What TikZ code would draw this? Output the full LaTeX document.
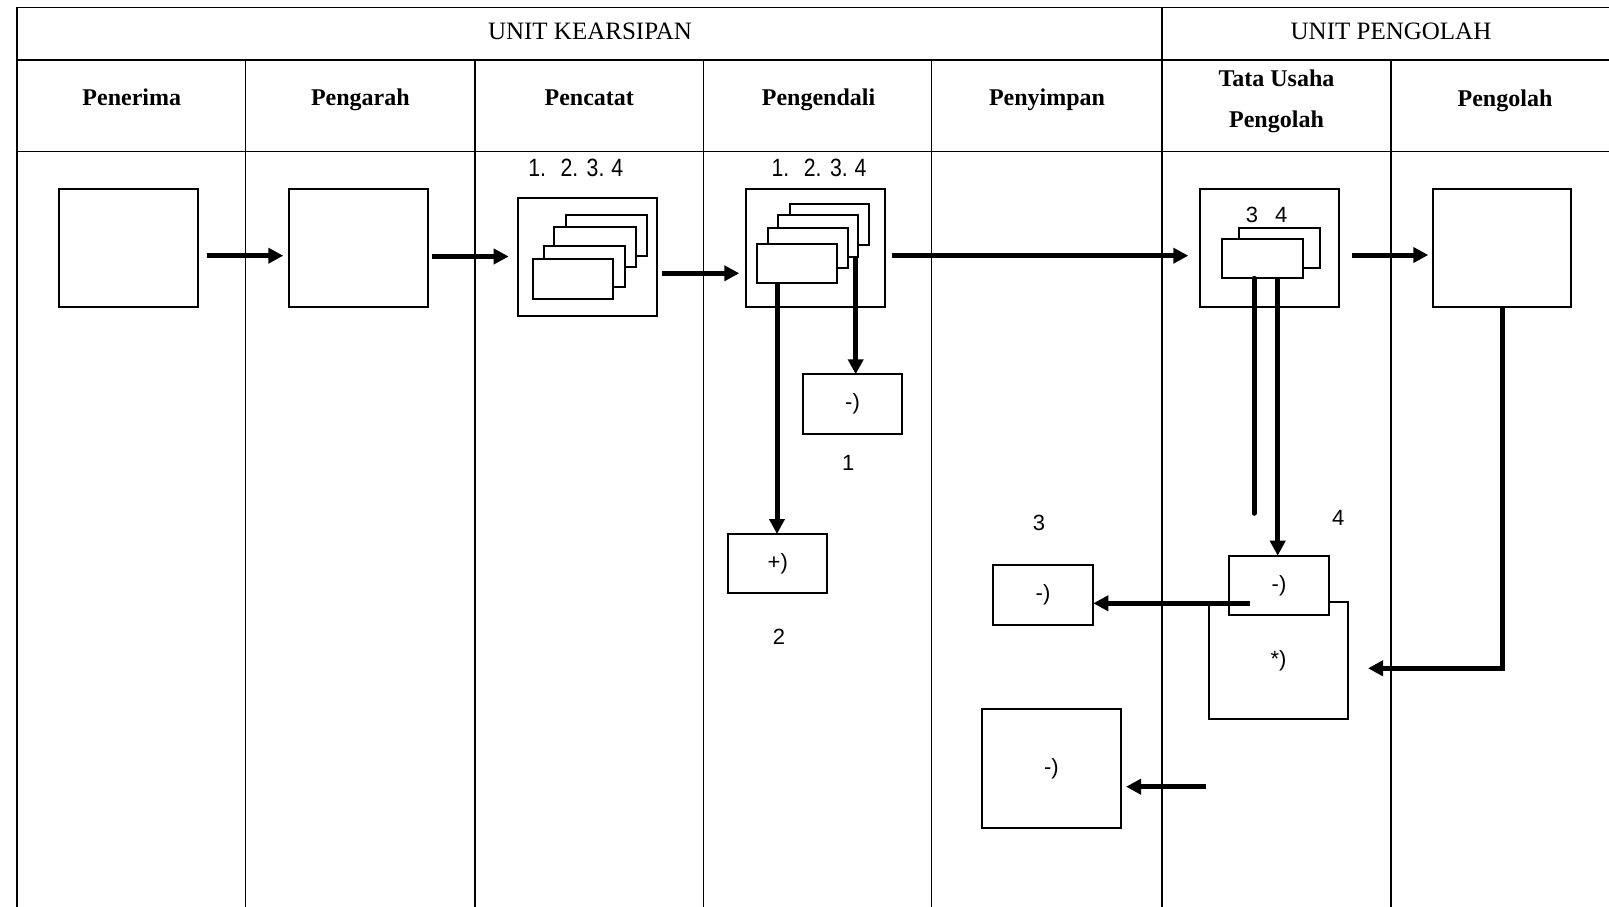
\documentclass[tikz,border=0pt]{standalone}
\usepackage{fontspec}
\usepackage{graphicx}
\setmainfont{Liberation Serif}
\setsansfont{Liberation Sans}
\usetikzlibrary{arrows.meta}
\newcommand{\narrow}[1]{\scalebox{0.85}[1]{#1}}
\begin{document}
\begin{tikzpicture}[x=1pt,y=-1pt,
  grid/.style={line width=1.4pt},
  box/.style={draw, line width=2.2pt, fill=white, inner sep=0pt, outer sep=0pt},
  sheet/.style={draw, line width=1.9pt, fill=white, inner sep=0pt, outer sep=0pt},
  arr/.style={line width=5pt, -{Triangle[length=15pt,width=15pt]}},
  thickline/.style={line width=5pt, line cap=round},
  hdr/.style={font=\fontsize{24}{28}\selectfont\bfseries, anchor=base, inner sep=0pt},
  unit/.style={font=\fontsize{25}{30}\selectfont, anchor=base, inner sep=0pt},
  nums/.style={font=\sffamily\fontsize{25}{28}\selectfont, anchor=base, inner sep=0pt},
  lbl/.style={font=\sffamily\fontsize{22}{24}\selectfont, inner sep=0pt},
  sym/.style={font=\sffamily\fontsize{22}{24}\selectfont}
]
\useasboundingbox (0,0) rectangle (1609,907);
\fill[white] (0,0) rectangle (1609,907);

% table
\draw[grid] (17,7.3) -- (1609,7.3);
\draw[grid] (17,60) -- (1609,60);
\draw[grid] (17,151.7) -- (1609,151.7);
\draw[grid] (17,7.3) -- (17,907);
\draw[grid] (1162,7.3) -- (1162,907);
\foreach \gx in {245.7,475,703.5,931.7,1391}
  \draw[grid] (\gx,60) -- (\gx,907);

% headers
\node[unit] (hk) at (590,39.3) {UNIT KEARSIPAN};
\node[unit] (hp) at (1391,39.3) {UNIT PENGOLAH};
\node[hdr] (h1) at (131.8,105) {Penerima};
\node[hdr] (h2) at (360.4,105) {Pengarah};
\node[hdr] (h3) at (589.3,105) {Pencatat};
\node[hdr] (h4) at (818.5,105) {Pengendali};
\node[hdr] (h5) at (1047,105) {Penyimpan};
\node[hdr] (h6a) at (1276.5,86) {Tata Usaha};
\node[hdr] (h6b) at (1276.5,127) {Pengolah};
\node[hdr] (h7) at (1505,106.5) {Pengolah};

% main boxes
\node[box, minimum width=138.7pt, minimum height=117.4pt] (penerima) at (128.65,248) {};
\node[box, minimum width=139pt, minimum height=117.4pt] (pengarah) at (358.2,248) {};
\node[box, minimum width=139.6pt, minimum height=117.4pt] (pencatat) at (587.5,257) {};
\node[box, minimum width=139.3pt, minimum height=118.3pt] (pengendali) at (815.35,248.15) {};
\node[box, minimum width=139.3pt, minimum height=117.7pt] (tu) at (1269.65,247.85) {};
\node[box, minimum width=137.7pt, minimum height=117.7pt] (pengolah) at (1502.15,247.85) {};

% stack in Pencatat
\node[sheet, minimum width=81pt, minimum height=41pt] (p4) at (606.2,235.5) {};
\node[sheet, minimum width=81.4pt, minimum height=40.6pt] (p3) at (595,247) {};
\node[sheet, minimum width=80.4pt, minimum height=40.7pt] (p2) at (584.5,266.35) {};
\node[sheet, minimum width=80.6pt, minimum height=40pt] (p1) at (573,279.3) {};

% stack in Pengendali
\node[sheet, minimum width=79.3pt, minimum height=41pt] (e4) at (829.65,224.5) {};
\node[sheet, minimum width=80pt, minimum height=41.7pt] (e3) at (818.3,235.85) {};
\node[sheet, minimum width=79.4pt, minimum height=40.6pt] (e2) at (808,248) {};
\node[sheet, minimum width=80pt, minimum height=39pt] (e1) at (796.7,263.8) {};

% stack in Tata Usaha
\node[sheet, minimum width=80.7pt, minimum height=39.4pt] (t2) at (1279.65,248) {};
\node[sheet, minimum width=81.6pt, minimum height=39pt] (t1) at (1262.5,258.8) {};

% number labels
\node[nums] (n1) at (575.7,176) {\narrow{1.\kern17pt 2.\kern10pt 3.\kern8pt 4}};
\node[nums] (n2) at (819,176) {\narrow{1.\kern17pt 2.\kern10pt 3.\kern8pt 4}};
\node[lbl, anchor=base] (n34) at (1266.7,222.7) {3\kern17pt 4};
\node[lbl] (l1) at (848.3,463.3) {1};
\node[lbl] (l2) at (779,636.7) {2};
\node[lbl] (l3) at (1039,523.3) {3};
\node[lbl] (l4) at (1338.3,518.3) {4};

% lower boxes
\node[box, sym, minimum width=99.6pt, minimum height=59.7pt] (b1) at (852.5,404.15) {-)};
\node[box, sym, minimum width=99pt, minimum height=59.3pt] (bplus) at (777.8,563.65) {+)};
\node[box, sym, minimum width=100.6pt, minimum height=60pt] (b3) at (1043,595) {-)};
\node[box, sym, minimum width=139.6pt, minimum height=117.6pt] (bstar) at (1278.5,660.5) {*)};
\node[box, sym, minimum width=100.6pt, minimum height=59.3pt] (b4) at (1279,585.35) {-)};
\node[box, sym, minimum width=139.3pt, minimum height=118.4pt] (bbig) at (1051.35,768.5) {-)};

% free ends
\coordinate (c3end) at (1254,513.3);
\coordinate (c4start) at (1250,603.3);
\coordinate (c5end) at (1368,668.3);
\coordinate (c6start) at (1206,786.7);

% connectors
\draw[arr, shorten <=8.7pt, shorten >=5.4pt] ([yshift=-7.7pt]penerima.east) -- ([yshift=-7.7pt]penerima.east -| pengarah.west);
\draw[arr, shorten <=4pt, shorten >=9pt] ([yshift=-8.5pt]pengarah.east) -- ([yshift=-8.5pt]pengarah.east -| pencatat.west);
\draw[arr, shorten <=4.4pt, shorten >=6.4pt] ([yshift=-16.3pt]pencatat.east) -- ([yshift=-16.3pt]pencatat.east -| pengendali.west);
\draw[arr, shorten <=6.7pt, shorten >=11.7pt] ([yshift=-7.55pt]pengendali.east) -- ([yshift=-7.55pt]pengendali.east -| tu.west);
\draw[arr, shorten <=12.4pt, shorten >=5pt] ([yshift=-7.15pt]tu.east) -- ([yshift=-7.15pt]tu.east -| pengolah.west);

\draw[arr] ([xshift=-19.7pt]e1.south) -- ([xshift=-19.7pt]e1.south |- bplus.north);
\draw[arr] ([xshift=37.4pt]e3.south) -- ([xshift=37.4pt]e3.south |- b1.north);

\draw[thickline] ([xshift=-8.5pt]t1.south) -- (c3end);
\draw[arr] ([xshift=15.2pt]t1.south) -- ([xshift=15.2pt]t1.south |- b4.north);

\draw[arr] (c4start) -- (c4start -| b3.east);
\draw[arr] (pengolah.south) |- (c5end);
\draw[arr, shorten >=5pt] (c6start) -- (c6start -| bbig.east);
\end{tikzpicture}
\end{document}
